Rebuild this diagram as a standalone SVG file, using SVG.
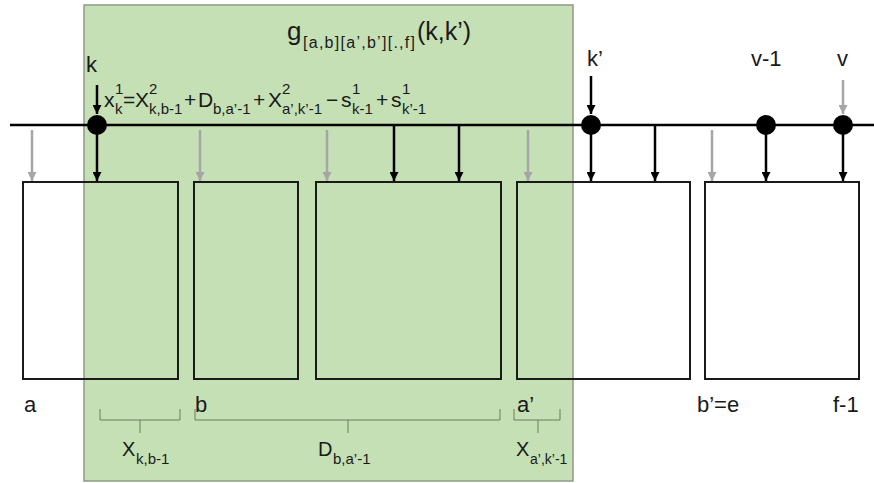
<svg xmlns="http://www.w3.org/2000/svg" width="874" height="483" viewBox="0 0 874 483">
<style>
  text { font-family: "Liberation Sans", Arial, sans-serif; fill: #1a1a1a; }
  .box { fill: #ffffff; stroke: #1a1a1a; stroke-width: 2; }
  .boxg { fill: none; stroke: #1a1a1a; stroke-width: 2; }
  .blk { stroke: #000; stroke-width: 2.5; fill: none; }
  .gry { stroke: #a6a6a6; stroke-width: 2.5; fill: none; }
  .brace { stroke: #6b7d5e; stroke-width: 1; fill: none; }
  .lbl { font-size: 22px; }
  .m { font-size: 21px; }
  .s { font-size: 15px; }
</style>
<defs>
  <marker id="ab" viewBox="0 0 10 10" refX="10" refY="5" markerWidth="9" markerHeight="9" markerUnits="userSpaceOnUse" orient="auto">
    <path d="M0,0 L10,5 L0,10 z" fill="#000"/>
  </marker>
  <marker id="ag" viewBox="0 0 10 10" refX="10" refY="5" markerWidth="9" markerHeight="9" markerUnits="userSpaceOnUse" orient="auto">
    <path d="M0,0 L10,5 L0,10 z" fill="#a6a6a6"/>
  </marker>
</defs>
<rect width="874" height="483" fill="#ffffff"/>

<g id="box-a"><rect class="box" x="23" y="182" width="155" height="197"/></g>
<g id="box-b"><rect class="box" x="194" y="182" width="104" height="197"/></g>
<g id="box-mid"><rect class="box" x="316" y="182" width="185" height="197"/></g>
<g id="box-aprime"><rect class="box" x="517" y="182" width="173" height="197"/></g>
<g id="box-e"><rect class="box" x="705" y="182" width="154" height="197"/></g>

<g id="region-g">
  <rect x="84" y="5" width="489" height="476" fill="#c5e0b4" stroke="#8c9c84" stroke-width="1.5"/>
</g>
<g id="box-outlines">
  <rect class="boxg" x="23" y="182" width="155" height="197"/>
  <rect class="boxg" x="194" y="182" width="104" height="197"/>
  <rect class="boxg" x="316" y="182" width="185" height="197"/>
  <rect class="boxg" x="517" y="182" width="173" height="197"/>
</g>

<g id="connectors">
  <line class="blk" x1="10" y1="125" x2="874" y2="125"/>
  <line class="blk" x1="97" y1="85" x2="97" y2="114" marker-end="url(#ab)"/>
  <line class="blk" x1="591" y1="76" x2="591" y2="114" marker-end="url(#ab)"/>
  <line class="gry" x1="843" y1="80" x2="843" y2="114" marker-end="url(#ag)"/>
  <line class="gry" x1="32" y1="130" x2="32" y2="181" marker-end="url(#ag)"/>
  <line class="blk" x1="97" y1="125" x2="97" y2="181" marker-end="url(#ab)"/>
  <line class="gry" x1="200" y1="130" x2="200" y2="181" marker-end="url(#ag)"/>
  <line class="gry" x1="327" y1="130" x2="327" y2="181" marker-end="url(#ag)"/>
  <line class="blk" x1="394" y1="125" x2="394" y2="181" marker-end="url(#ab)"/>
  <line class="blk" x1="459" y1="125" x2="459" y2="181" marker-end="url(#ab)"/>
  <line class="gry" x1="528" y1="130" x2="528" y2="181" marker-end="url(#ag)"/>
  <line class="blk" x1="591" y1="125" x2="591" y2="181" marker-end="url(#ab)"/>
  <line class="blk" x1="655" y1="125" x2="655" y2="181" marker-end="url(#ab)"/>
  <line class="gry" x1="712" y1="130" x2="712" y2="181" marker-end="url(#ag)"/>
  <line class="blk" x1="766" y1="125" x2="766" y2="181" marker-end="url(#ab)"/>
  <line class="blk" x1="843" y1="125" x2="843" y2="181" marker-end="url(#ab)"/>
</g>

<g id="dot-k"><circle cx="97" cy="125" r="10" fill="#000"/></g>
<g id="dot-kprime"><circle cx="591" cy="125" r="10" fill="#000"/></g>
<g id="dot-v1"><circle cx="766" cy="125" r="10" fill="#000"/></g>
<g id="dot-v"><circle cx="843" cy="125" r="10" fill="#000"/></g>

<g id="labels-top">
  <text class="lbl" x="86" y="72">k</text>
  <text class="lbl" x="587" y="66">k’</text>
  <text class="lbl" x="751" y="66">v-1</text>
  <text class="lbl" x="837" y="66">v</text>
</g>

<g id="title">
  <text x="287" y="40" font-size="26">g</text>
  <text x="303" y="48" font-size="16" textLength="112" lengthAdjust="spacing">[a,b][a’,b’][.,f]</text>
  <text x="417" y="40" font-size="25">(k,k’)</text>
</g>

<g id="formula">
  <text class="m" x="104" y="107">x</text>
  <text class="s" x="115" y="94">1</text>
  <text class="s" x="115" y="114">k</text>
  <text class="m" x="123" y="107">=</text>
  <text class="m" x="135" y="107">X</text>
  <text class="s" x="149" y="94">2</text>
  <text class="s" x="149" y="114">k,b-1</text>
  <text class="m" x="184" y="107">+</text>
  <text class="m" x="198" y="107">D</text>
  <text class="s" x="213" y="114">b,a’-1</text>
  <text class="m" x="253" y="107">+</text>
  <text class="m" x="268" y="107">X</text>
  <text class="s" x="282" y="94">2</text>
  <text class="s" x="282" y="114">a’,k’-1</text>
  <text class="m" x="326" y="107">−</text>
  <text class="m" x="341" y="107">s</text>
  <text class="s" x="352" y="94">1</text>
  <text class="s" x="352" y="114">k-1</text>
  <text class="m" x="376" y="107">+</text>
  <text class="m" x="391" y="107">s</text>
  <text class="s" x="402" y="94">1</text>
  <text class="s" x="402" y="114">k’-1</text>
</g>

<g id="labels-bottom">
  <text class="lbl" x="24" y="412">a</text>
  <text class="lbl" x="195" y="412">b</text>
  <text class="lbl" x="517" y="412">a’</text>
  <text class="lbl" x="697" y="412">b’=e</text>
  <text class="lbl" x="833" y="412">f-1</text>
</g>

<g id="braces">
  <path class="brace" d="M100,409 V420 H180 V409 M140,420 V433"/>
  <path class="brace" d="M195,409 V420 H500 V409 M348,420 V433"/>
  <path class="brace" d="M514,409 V420 H560 V409 M538,420 V433"/>
  <text x="122" y="456" font-size="20">X</text>
  <text x="136" y="464" font-size="15">k,b-1</text>
  <text x="318" y="456" font-size="20">D</text>
  <text x="333" y="464" font-size="15">b,a’-1</text>
  <text x="516" y="456" font-size="20">X</text>
  <text x="530" y="464" font-size="14">a’,k’-1</text>
</g>
</svg>
